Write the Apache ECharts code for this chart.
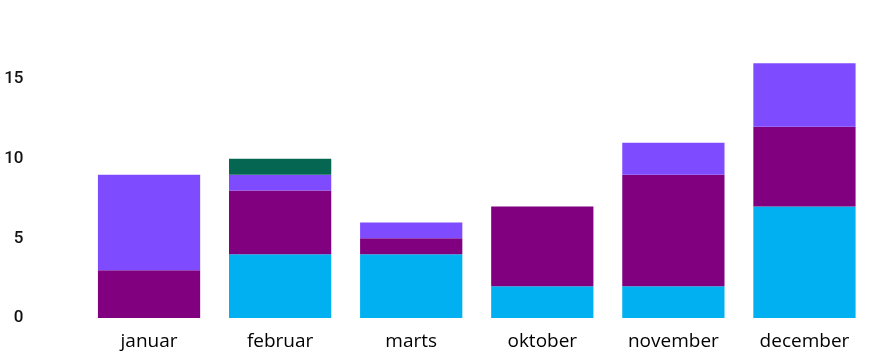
<!DOCTYPE html>
<html>
<head>
<meta charset="utf-8">
<script src="https://cdn.jsdelivr.net/npm/echarts@6/dist/echarts.min.js"></script>
<style>
  html, body { margin: 0; padding: 0; background: #ffffff; }
  #chart { width: 871px; height: 361px; }
</style>
</head>
<body>
<div id="chart"></div>
<script>
// Months shown on the category axis
const months = ['januar', 'februar', 'marts', 'oktober', 'november', 'december'];

// Stacked series, bottom to top
const cyanValues   = [0, 4, 4, 2, 2, 7];
const purpleValues = [3, 4, 1, 5, 7, 5];
const violetValues = [6, 1, 1, 0, 2, 4];
const greenValues  = [0, 1, 0, 0, 0, 0];

const seriesDefs = [
  { name: 'A', data: cyanValues,   color: '#00B0F0' },
  { name: 'B', data: purpleValues, color: '#800080' },
  { name: 'C', data: violetValues, color: '#7F4BFF' },
  { name: 'D', data: greenValues,  color: '#056751' }
];

const chart = echarts.init(document.getElementById('chart'), null, { renderer: 'canvas' });

chart.setOption({
  animation: false,
  backgroundColor: '#ffffff',
  grid: { left: 83.5, right: 1, top: 47.2, bottom: 43 },
  xAxis: {
    type: 'category',
    data: months,
    axisLine: { show: false },
    axisTick: { show: false },
    axisLabel: {
      color: '#000000',
      fontFamily: 'Open Sans',
      fontSize: 19,
      margin: 14
    }
  },
  yAxis: {
    type: 'value',
    min: 0,
    max: 17,
    interval: 5,
    splitLine: { show: false },
    axisLine: { show: false },
    axisTick: { show: false },
    axisLabel: {
      color: '#111111',
      fontFamily: 'Roboto',
      fontWeight: 500,
      fontSize: 17,
      margin: 60,
      padding: [4, 0, 0, 0],
      showMaxLabel: false
    }
  },
  series: seriesDefs.map(s => ({
    name: s.name,
    type: 'bar',
    stack: 'total',
    data: s.data,
    barCategoryGap: '22%',
    itemStyle: { color: s.color },
    emphasis: { disabled: true }
  }))
});
</script>
</body>
</html>
